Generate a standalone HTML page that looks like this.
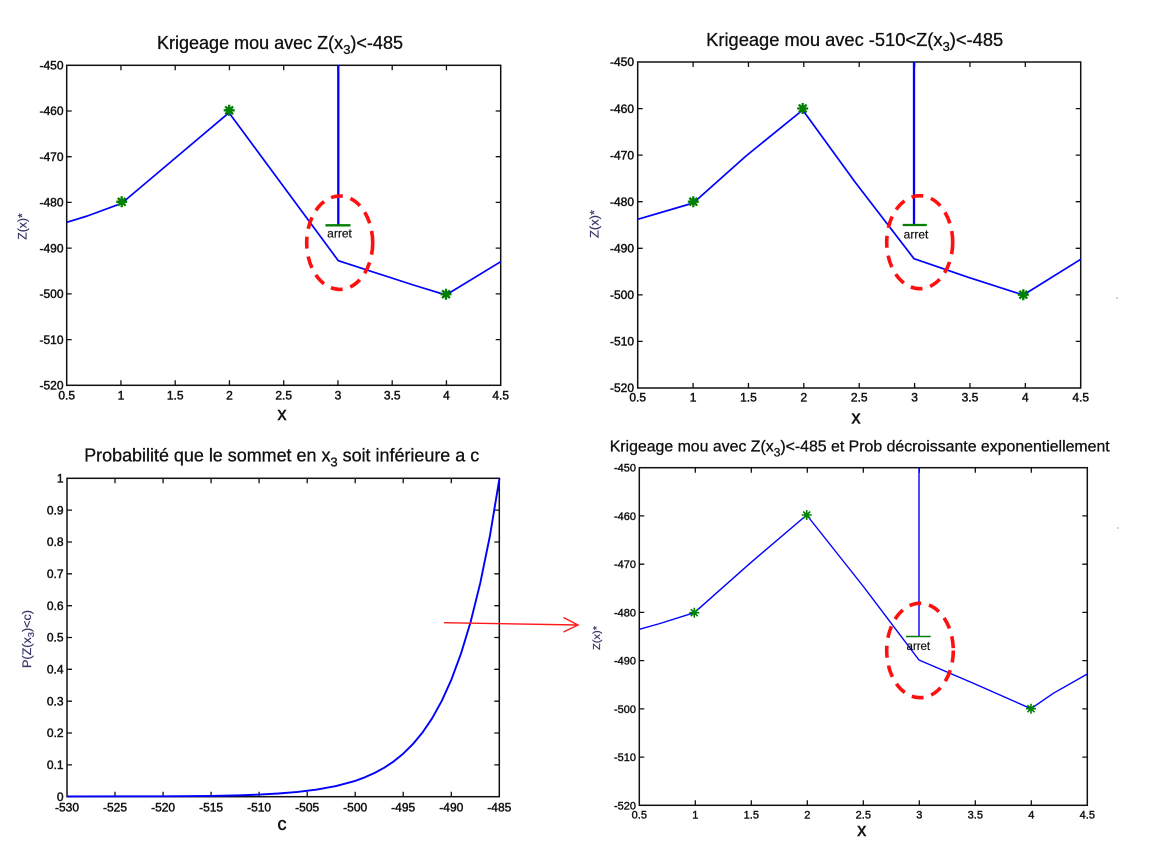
<!DOCTYPE html>
<html>
<head>
<meta charset="utf-8">
<style>
html,body{margin:0;padding:0;background:#fff;}
svg{display:block;}
text{font-family:"Liberation Sans",Arial,sans-serif;}
.tk{font-size:12px;fill:#111;stroke:#111;stroke-width:0.45;}
.tks{font-size:11px;fill:#111;stroke:#111;stroke-width:0.4;}
.yl{fill:#333366;stroke:#333366;stroke-width:0.2;}
.ttl{fill:#111;stroke:#111;stroke-width:0.3;}
.axl{fill:#111;stroke:#111;stroke-width:0.5;}
</style>
</head>
<body>
<svg width="1150" height="853" viewBox="0 0 1150 853" xmlns="http://www.w3.org/2000/svg">
<defs>
  <g id="st">
    <path d="M-5.5 0H5.5M0 -5.5V5.5M-3.9 -3.9L3.9 3.9M-3.9 3.9L3.9 -3.9" stroke="#007f00" stroke-width="2.3" fill="none"/>
  </g>
  <g id="st2">
    <path d="M-5 0H5M0 -5V5M-3.5 -3.5L3.5 3.5M-3.5 3.5L3.5 -3.5" stroke="#008000" stroke-width="1.6" fill="none"/>
  </g>
</defs>
<rect width="1150" height="853" fill="#fff"/>

<!-- ================= TOP LEFT ================= -->
<text class="ttl" x="280" y="49" font-size="18" text-anchor="middle" textLength="246" lengthAdjust="spacingAndGlyphs">Krigeage mou avec Z(x<tspan font-size="13" dy="5">3</tspan><tspan dy="-5">)&lt;-485</tspan></text>
<rect x="66.7" y="65.3" width="434" height="320" fill="none" stroke="#111" stroke-width="1.5"/>
<path stroke="#111" stroke-width="1.3" fill="none" d="
M120.95 385.3v-5M175.2 385.3v-5M229.45 385.3v-5M283.7 385.3v-5M337.95 385.3v-5M392.2 385.3v-5M446.45 385.3v-5
M120.95 65.3v5M175.2 65.3v5M229.45 65.3v5M283.7 65.3v5M337.95 65.3v5M392.2 65.3v5M446.45 65.3v5
M66.7 111h5M66.7 156.7h5M66.7 202.4h5M66.7 248.1h5M66.7 293.9h5M66.7 339.6h5
M500.7 111h-5M500.7 156.7h-5M500.7 202.4h-5M500.7 248.1h-5M500.7 293.9h-5M500.7 339.6h-5"/>
<g class="tk" text-anchor="end">
<text x="63.5" y="69.5">-450</text>
<text x="63.5" y="115.2">-460</text>
<text x="63.5" y="160.9">-470</text>
<text x="63.5" y="206.6">-480</text>
<text x="63.5" y="252.3">-490</text>
<text x="63.5" y="298.1">-500</text>
<text x="63.5" y="343.8">-510</text>
<text x="63.5" y="389.5">-520</text>
</g>
<g class="tk" text-anchor="middle">
<text x="66.7" y="399.5">0.5</text>
<text x="120.95" y="399.5">1</text>
<text x="175.2" y="399.5">1.5</text>
<text x="229.45" y="399.5">2</text>
<text x="283.7" y="399.5">2.5</text>
<text x="337.95" y="399.5">3</text>
<text x="392.2" y="399.5">3.5</text>
<text x="446.45" y="399.5">4</text>
<text x="500.7" y="399.5">4.5</text>
</g>
<text class="axl" x="282" y="420" font-size="18" text-anchor="middle">x</text>
<text transform="translate(26.5,226.5) rotate(-90)" font-size="11.5" text-anchor="middle" textLength="26.5" lengthAdjust="spacingAndGlyphs" class="yl">Z(x)*</text>
<polyline fill="none" stroke="#0000ff" stroke-width="1.7" stroke-linejoin="round" points="66.7,222.3 87.3,216 121.7,203.3 229,112.7 338.3,260.7 413.3,285 446,295 500.7,261.7"/>
<line x1="338.3" y1="65.3" x2="338.3" y2="225.3" stroke="#0000ff" stroke-width="2.3"/>
<line x1="325.5" y1="225.3" x2="350.5" y2="225.3" stroke="#007f00" stroke-width="2.3"/>
<text x="339.5" y="237.5" font-size="12" text-anchor="middle" fill="#111" stroke="#111" stroke-width="0.2">arret</text>
<use href="#st" x="121.7" y="201.8"/>
<use href="#st" x="229.2" y="110.3"/>
<use href="#st" x="446" y="294.2"/>
<ellipse cx="339.7" cy="242.7" rx="33" ry="46.7" fill="none" stroke="#ff1010" stroke-width="3.6" stroke-dasharray="12 8"/>

<!-- ================= TOP RIGHT ================= -->
<text class="ttl" x="854.7" y="46" font-size="18" text-anchor="middle" textLength="297" lengthAdjust="spacingAndGlyphs">Krigeage mou avec -510&lt;Z(x<tspan font-size="13" dy="5">3</tspan><tspan dy="-5">)&lt;-485</tspan></text>
<rect x="637.7" y="62" width="443" height="326" fill="none" stroke="#111" stroke-width="1.5"/>
<path stroke="#111" stroke-width="1.3" fill="none" d="
M693.1 388v-5M748.45 388v-5M803.8 388v-5M859.2 388v-5M914.6 388v-5M969.95 388v-5M1025.3 388v-5
M693.1 62v5M748.45 62v5M803.8 62v5M859.2 62v5M914.6 62v5M969.95 62v5M1025.3 62v5
M637.7 108.6h5M637.7 155.1h5M637.7 201.7h5M637.7 248.3h5M637.7 294.9h5M637.7 341.4h5
M1080.7 108.6h-5M1080.7 155.1h-5M1080.7 201.7h-5M1080.7 248.3h-5M1080.7 294.9h-5M1080.7 341.4h-5"/>
<g class="tk" text-anchor="end">
<text x="634" y="66.2">-450</text>
<text x="634" y="112.8">-460</text>
<text x="634" y="159.3">-470</text>
<text x="634" y="205.9">-480</text>
<text x="634" y="252.5">-490</text>
<text x="634" y="299.1">-500</text>
<text x="634" y="345.6">-510</text>
<text x="634" y="392.2">-520</text>
</g>
<g class="tk" text-anchor="middle">
<text x="637.7" y="401.7">0.5</text>
<text x="693.1" y="401.7">1</text>
<text x="748.45" y="401.7">1.5</text>
<text x="803.8" y="401.7">2</text>
<text x="859.2" y="401.7">2.5</text>
<text x="914.6" y="401.7">3</text>
<text x="969.95" y="401.7">3.5</text>
<text x="1025.3" y="401.7">4</text>
<text x="1080.7" y="401.7">4.5</text>
</g>
<text class="axl" x="856" y="423.3" font-size="18" text-anchor="middle">x</text>
<text transform="translate(598.5,224) rotate(-90)" font-size="11.5" text-anchor="middle" textLength="28" lengthAdjust="spacingAndGlyphs" class="yl">Z(x)*</text>
<polyline fill="none" stroke="#0000ff" stroke-width="1.7" stroke-linejoin="round" points="637.7,219.3 693.3,203 746,156 802.7,110 855,182 914,258.7 968.3,277.3 1023.3,295 1080.7,259.3"/>
<line x1="914" y1="62" x2="914" y2="225" stroke="#0000ff" stroke-width="2.3"/>
<line x1="902.7" y1="225" x2="926.7" y2="225" stroke="#007f00" stroke-width="2.3"/>
<text x="916" y="238.5" font-size="12" text-anchor="middle" fill="#111" stroke="#111" stroke-width="0.2">arret</text>
<use href="#st" x="693.3" y="201.7"/>
<use href="#st" x="802.7" y="108.5"/>
<use href="#st" x="1023.3" y="294.7"/>
<ellipse cx="919.7" cy="242.2" rx="33" ry="46.5" fill="none" stroke="#ff1010" stroke-width="3.6" stroke-dasharray="12 8"/>

<!-- ================= BOTTOM LEFT ================= -->
<text class="ttl" x="281.7" y="461.7" font-size="18" text-anchor="middle" textLength="395" lengthAdjust="spacingAndGlyphs">Probabilité que le sommet en x<tspan font-size="13" dy="5">3</tspan><tspan dy="-5"> soit inférieure a c</tspan></text>
<rect x="67" y="478.3" width="432.3" height="318.4" fill="none" stroke="#111" stroke-width="1.5"/>
<path stroke="#111" stroke-width="1.3" fill="none" d="
M115 796.7v-5M163.1 796.7v-5M211.1 796.7v-5M259.1 796.7v-5M307.2 796.7v-5M355.2 796.7v-5M403.2 796.7v-5M451.3 796.7v-5
M115 478.3v5M163.1 478.3v5M211.1 478.3v5M259.1 478.3v5M307.2 478.3v5M355.2 478.3v5M403.2 478.3v5M451.3 478.3v5
M67 764.9h5M67 733h5M67 701.2h5M67 669.3h5M67 637.5h5M67 605.7h5M67 573.8h5M67 542h5M67 510.1h5
M499.3 764.9h-5M499.3 733h-5M499.3 701.2h-5M499.3 669.3h-5M499.3 637.5h-5M499.3 605.7h-5M499.3 573.8h-5M499.3 542h-5M499.3 510.1h-5"/>
<g class="tk" text-anchor="end">
<text x="63.5" y="800.9">0</text>
<text x="63.5" y="769.1">0.1</text>
<text x="63.5" y="737.2">0.2</text>
<text x="63.5" y="705.4">0.3</text>
<text x="63.5" y="673.5">0.4</text>
<text x="63.5" y="641.7">0.5</text>
<text x="63.5" y="609.9">0.6</text>
<text x="63.5" y="578">0.7</text>
<text x="63.5" y="546.2">0.8</text>
<text x="63.5" y="514.3">0.9</text>
<text x="63.5" y="482.5">1</text>
</g>
<g class="tk" text-anchor="middle">
<text x="67" y="811.5">-530</text>
<text x="115" y="811.5">-525</text>
<text x="163.1" y="811.5">-520</text>
<text x="211.1" y="811.5">-515</text>
<text x="259.1" y="811.5">-510</text>
<text x="307.2" y="811.5">-505</text>
<text x="355.2" y="811.5">-500</text>
<text x="403.2" y="811.5">-495</text>
<text x="451.3" y="811.5">-490</text>
<text x="499.3" y="811.5">-485</text>
</g>
<text class="axl" x="282" y="830" font-size="18" text-anchor="middle">c</text>
<text transform="translate(31,639) rotate(-90)" font-size="11.5" text-anchor="middle" textLength="58" lengthAdjust="spacingAndGlyphs" class="yl">P(Z(x<tspan font-size="8.5" dy="3">3</tspan><tspan dy="-3">)&lt;c)</tspan></text>
<polyline fill="none" stroke="#0000ff" stroke-width="1.9" stroke-linejoin="round" points="67,796.4 163.07,796.3 211.2,795.9 240,795.3 259.1,794.6 278.4,793.5 297.6,791.9 316.8,789.6 336,786.1 355.2,780.9 364.9,777.3 374.5,773 384.1,767.8 393.7,761.4 403.3,753.6 412.9,744.1 422.6,732.4 432.2,718.2 441.8,700.8 451.4,679.6 461,653.6 470.6,622 480.2,583.3 489.9,536 499.5,478.3"/>
<!-- red arrow -->
<path d="M444 622.7L578 625M563.5 617.5L578 625L563.5 632" fill="none" stroke="#ff1a1a" stroke-width="1.4"/>

<!-- ================= BOTTOM RIGHT ================= -->
<text class="ttl" x="859.7" y="451.7" font-size="16" text-anchor="middle" textLength="500" lengthAdjust="spacingAndGlyphs">Krigeage mou avec Z(x<tspan font-size="12" dy="5">3</tspan><tspan dy="-5">)&lt;-485 et Prob décroissante exponentiellement</tspan></text>
<rect x="639.3" y="467.7" width="448" height="337.6" fill="none" stroke="#111" stroke-width="1.5"/>
<path stroke="#111" stroke-width="1.3" fill="none" d="
M695.3 805.3v-5M751.3 805.3v-5M807.3 805.3v-5M863.3 805.3v-5M919.3 805.3v-5M975.3 805.3v-5M1031.3 805.3v-5
M695.3 467.7v5M751.3 467.7v5M807.3 467.7v5M863.3 467.7v5M919.3 467.7v5M975.3 467.7v5M1031.3 467.7v5
M639.3 515.9h5M639.3 564.2h5M639.3 612.4h5M639.3 660.6h5M639.3 708.9h5M639.3 757.1h5
M1087.3 515.9h-5M1087.3 564.2h-5M1087.3 612.4h-5M1087.3 660.6h-5M1087.3 708.9h-5M1087.3 757.1h-5"/>
<g class="tks" text-anchor="end">
<text x="636" y="471.7">-450</text>
<text x="636" y="519.9">-460</text>
<text x="636" y="568.2">-470</text>
<text x="636" y="616.4">-480</text>
<text x="636" y="664.6">-490</text>
<text x="636" y="712.9">-500</text>
<text x="636" y="761.1">-510</text>
<text x="636" y="809.3">-520</text>
</g>
<g class="tks" text-anchor="middle">
<text x="639.3" y="818.5">0.5</text>
<text x="695.3" y="818.5">1</text>
<text x="751.3" y="818.5">1.5</text>
<text x="807.3" y="818.5">2</text>
<text x="863.3" y="818.5">2.5</text>
<text x="919.3" y="818.5">3</text>
<text x="975.3" y="818.5">3.5</text>
<text x="1031.3" y="818.5">4</text>
<text x="1087.3" y="818.5">4.5</text>
</g>
<text class="axl" x="861.7" y="836" font-size="18" text-anchor="middle">x</text>
<text transform="translate(600,638) rotate(-90)" font-size="10" text-anchor="middle" textLength="24" lengthAdjust="spacingAndGlyphs" class="yl">Z(x)*</text>
<polyline fill="none" stroke="#0000ff" stroke-width="1.4" stroke-linejoin="round" points="639.3,629.3 660,623.5 694.3,612.7 750,563.3 806.7,515 863,586 919,660 975,684 1031,708.7 1053.3,693.3 1087.3,674"/>
<line x1="919" y1="467.7" x2="919" y2="636.5" stroke="#0000ff" stroke-width="1.4"/>
<line x1="906" y1="636.5" x2="930.7" y2="636.5" stroke="#008000" stroke-width="1.4"/>
<text x="918.3" y="650" font-size="11.5" text-anchor="middle" fill="#111" stroke="#111" stroke-width="0.2">arret</text>
<use href="#st2" x="694.3" y="612.7"/>
<use href="#st2" x="806.7" y="515"/>
<use href="#st2" x="1031" y="708.7"/>
<ellipse cx="920" cy="650.5" rx="33.3" ry="47.2" fill="none" stroke="#ff1010" stroke-width="3.6" stroke-dasharray="12 8"/>

<!-- faint artifacts -->
<rect x="1116" y="297" width="2" height="2" fill="#c8d8f0"/>
<rect x="1117" y="527" width="2" height="2" fill="#c8d8f0"/>
</svg>
</body>
</html>
